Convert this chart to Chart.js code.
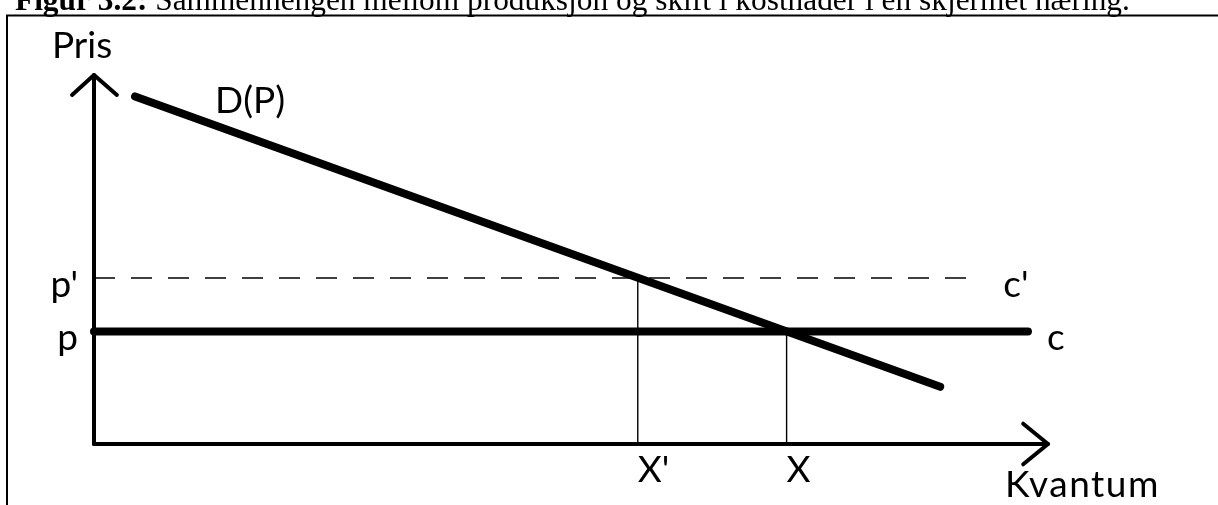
<!DOCTYPE html>
<html lang="no">
<head>
<meta charset="utf-8">
<title>Figur 3.2</title>
<script src="https://cdn.jsdelivr.net/npm/chart.js@4.4.1/dist/chart.umd.min.js"></script>
<style>
  html, body { margin: 0; padding: 0; background: #fff; }
  #fig { display: block; }
</style>
</head>
<body>
<canvas id="fig" width="1218" height="505"></canvas>
<script>
/* Figur 3.2 - produksjon og kostnader i skjermet naering */

// etterspoerselskurven D(P), to endepunkter (kvantum, pris)
const demandQ = [0.43, 8.87];
const demandP = [9.42, 1.55];

// kostnadsnivaa: c og c' (pris) og hvor langt linjene gaar
const costLevels = [3.05, 4.5];
const costEnds = [9.79, 9.28];

// kvantum ved likevekt: X og X'
const quantities = [7.26, 5.7];

// aksene og pilene
const axisMax = [10, 10];
const arrowY = [[-0.23, 9.46], [0, 10], [0.24, 9.46]];
const arrowX = [[9.74, 0.55], [10, 0], [9.74, -0.55]];

// tekst
const titleBold = 'Figur 3.2:';
const titleRest = ' Sammenhengen mellom produksjon og skift i kostnader i en skjermet næring.';
const costNames = ['c', "c'"];
const priceNames = ['p', "p'"];
const quantNames = ['X', "X'"];

const LABEL_FONT = '"Lato", "DejaVu Sans", sans-serif';

function pts(xs, ys) {
    return xs.map((x, i) => ({ x: x, y: ys[i] }));
}

function lineSet(data, width, extra) {
    return Object.assign({
        data: data,
        showLine: true,
        borderColor: '#000',
        backgroundColor: '#000',
        borderWidth: width,
        pointRadius: 0,
        pointHoverRadius: 0,
        tension: 0,
        fill: false,
        clip: false,
        borderCapStyle: 'round',
        borderJoinStyle: 'round'
    }, extra || {});
}

const datasets = [
    // aksene
    lineSet(pts([0, 0], [0, axisMax[1]]), 4),
    lineSet(pts([0, axisMax[0]], [0, 0]), 4),
    lineSet(arrowY.map(p => ({ x: p[0], y: p[1] })), 4),
    lineSet(arrowX.map(p => ({ x: p[0], y: p[1] })), 4),
    // c' stiplet
    lineSet(pts([0, costEnds[1]], [costLevels[1], costLevels[1]]), 1.4, { borderDash: [21, 16], borderCapStyle: 'butt' }),
    // loddrette linjer ned til X' og X
    lineSet(pts([quantities[1], quantities[1]], [costLevels[1], 0]), 1.4, { borderCapStyle: 'butt' }),
    lineSet(pts([quantities[0], quantities[0]], [costLevels[0], 0]), 1.4, { borderCapStyle: 'butt' }),
    // c
    lineSet(pts([0, costEnds[0]], [costLevels[0], costLevels[0]]), 8),
    // D(P)
    lineSet(pts(demandQ, demandP), 8)
];

// ramme, tittel og alle tekstene
const labelsPlugin = {
    id: 'figLabels',
    afterDraw(chart) {
        const ctx = chart.ctx;
        const xs = chart.scales.x, ys = chart.scales.y;
        const x0 = xs.getPixelForValue(0), y0 = ys.getPixelForValue(0);

        ctx.save();

        // ramme
        ctx.strokeStyle = '#000';
        ctx.lineWidth = 2;
        ctx.beginPath();
        ctx.moveTo(7, chart.height);
        ctx.lineTo(7, 15.5);
        ctx.lineTo(chart.width, 15.5);
        ctx.stroke();

        // tittel, delvis kuttet i toppen
        ctx.fillStyle = '#000';
        ctx.textBaseline = 'alphabetic';
        ctx.textAlign = 'left';
        let size = 28;
        ctx.font = 'bold ' + size + 'px "Liberation Serif", serif';
        let wb = ctx.measureText(titleBold).width;
        ctx.font = size + 'px "Liberation Serif", serif';
        let wr = ctx.measureText(titleRest).width;
        size = size * 1115 / (wb + wr);
        ctx.font = 'bold ' + size + 'px "Liberation Serif", serif';
        ctx.fillText(titleBold, 15, 10);
        wb = ctx.measureText(titleBold).width;
        ctx.font = size + 'px "Liberation Serif", serif';
        ctx.fillText(titleRest, 15 + wb, 10);

        ctx.font = '37px ' + LABEL_FONT;

        // aksetitler
        ctx.fillText('Pris', 52, 58);
        ctx.fillText('D(P)', 215, 113);
        ctx.letterSpacing = '1.5px';
        ctx.fillText('Kvantum', 1005, y0 + 53);
        ctx.letterSpacing = '0px';

        // p og p' til venstre for y-aksen
        ctx.textAlign = 'right';
        priceNames.forEach((t, i) => {
            ctx.fillText(t, x0 - 16, ys.getPixelForValue(costLevels[i]) + 19);
        });

        // c og c' etter linjene
        ctx.textAlign = 'left';
        costNames.forEach((t, i) => {
            const gap = i === 0 ? 19 : 24;
            ctx.fillText(t, xs.getPixelForValue(costEnds[i]) + gap, ys.getPixelForValue(costLevels[i]) + 19);
        });

        // X og X' under x-aksen
        quantNames.forEach((t, i) => {
            ctx.fillText(t, xs.getPixelForValue(quantities[i]), y0 + 38);
        });

        ctx.restore();
    }
};

new Chart(document.getElementById('fig').getContext('2d'), {
    type: 'scatter',
    data: { datasets: datasets },
    options: {
        responsive: false,
        animation: false,
        events: [],
        layout: { padding: { left: 94, right: 170, top: 75, bottom: 61 } },
        plugins: {
            legend: { display: false },
            tooltip: { enabled: false },
            title: { display: false }
        },
        scales: {
            x: { type: 'linear', min: 0, max: axisMax[0], display: false },
            y: { type: 'linear', min: 0, max: axisMax[1], display: false }
        }
    },
    plugins: [labelsPlugin]
});
</script>
</body>
</html>
